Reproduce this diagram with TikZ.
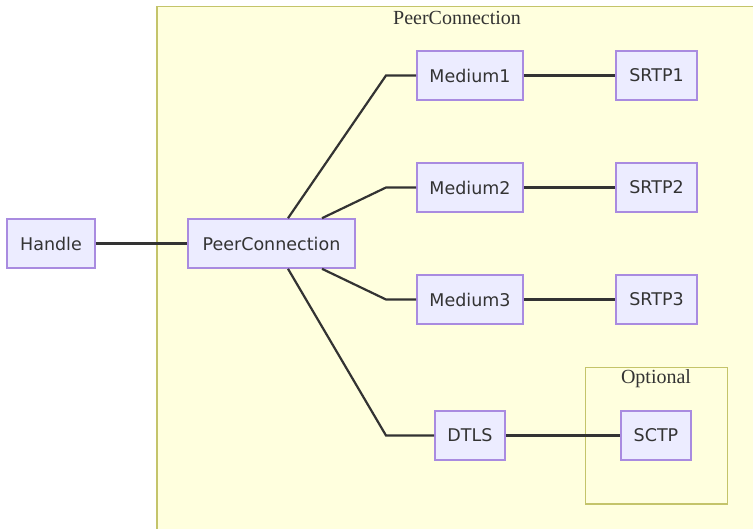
\documentclass[tikz,border=0pt]{standalone}
\usepackage{fontspec}
\setmainfont{Liberation Serif}
\newfontfamily\nodefont{DejaVu Sans}
\begin{document}
\begin{tikzpicture}[x=1pt,y=-1pt,
  box/.style={draw=nodeborder,fill=nodefill,line width=1.6pt,inner sep=0pt,
    minimum height=49pt,font=\nodefont\fontsize{17.5}{20}\selectfont,text=textcol},
  cluster/.style={draw=clusterborder,fill=clusterfill,line width=1.8pt},
  clabel/.style={font=\fontsize{20}{24}\selectfont,text=textcol,inner sep=0pt},
  link/.style={draw=linecol,line width=2.2pt}]
\definecolor{nodefill}{HTML}{ECECFF}
\definecolor{nodeborder}{HTML}{A98BE0}
\definecolor{clusterfill}{HTML}{FFFFDE}
\definecolor{clusterborder}{HTML}{C4C46A}
\definecolor{linecol}{HTML}{333333}
\definecolor{textcol}{HTML}{333333}
\useasboundingbox (0,0) rectangle (753,528);
% clusters
\path[cluster] (157,6.5) rectangle (770,545);
\node[clabel] (pclabel) at (457,18) {PeerConnection};
\path[cluster] (585.5,367.5) rectangle (727.5,504);
\node[clabel] (optlabel) at (656,379) {Optional};
% nodes
\node[box,minimum width=88pt] (handle) at (51,243.5) {Handle};
\node[box,minimum width=167pt] (pc) at (271.5,243.5) {PeerConnection};
\node[box,minimum width=106pt] (m1) at (470,75.5) {Medium1};
\node[box,minimum width=106pt] (m2) at (470,187.5) {Medium2};
\node[box,minimum width=106pt] (m3) at (470,299.5) {Medium3};
\node[box,minimum width=81pt] (s1) at (656.5,75.5) {SRTP1};
\node[box,minimum width=81pt] (s2) at (656.5,187.5) {SRTP2};
\node[box,minimum width=81pt] (s3) at (656.5,299.5) {SRTP3};
\node[box,minimum width=70pt] (dtls) at (470,435.5) {DTLS};
\node[box,minimum width=70pt] (sctp) at (656,435.5) {SCTP};
% links
\coordinate (k1) at (386,75.5);
\coordinate (k2) at (386,187.5);
\coordinate (k3) at (386,299.5);
\coordinate (k4) at (386,435.5);
\path[link] (handle.east) -- (pc.west);
\path[link] ([xshift=16.5pt]pc.north) -- (k1) -- (m1.west);
\path[link] ([xshift=50.5pt]pc.north) -- (k2) -- (m2.west);
\path[link] ([xshift=50.5pt]pc.south) -- (k3) -- (m3.west);
\path[link] ([xshift=16.5pt]pc.south) -- (k4) -- (dtls.west);
\path[link] (m1.east) -- (s1.west);
\path[link] (m2.east) -- (s2.west);
\path[link] (m3.east) -- (s3.west);
\path[link] (dtls.east) -- (sctp.west);
\end{tikzpicture}
\end{document}
